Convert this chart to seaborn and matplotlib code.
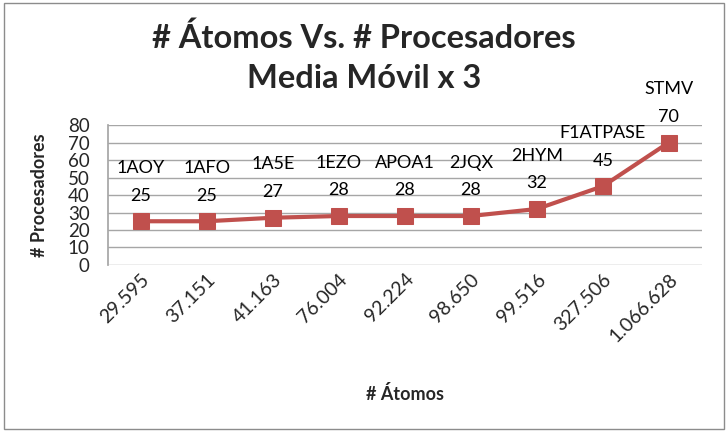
import numpy as np
import pandas as pd
import matplotlib
matplotlib.use('Agg')
import matplotlib.pyplot as plt
import matplotlib.transforms as mtransforms
import seaborn as sns
from matplotlib.patches import Rectangle

# data
atomos = ['29.595', '37.151', '41.163', '76.004', '92.224', '98.650',
          '99.516', '327.506', '1.066.628']
nombres = ['1AOY', '1AFO', '1A5E', '1EZO', 'APOA1', '2JQX', '2HYM',
           'F1ATPASE', 'STMV']
procesadores = [25, 25, 27, 28, 28, 28, 32, 45, 70]

sns.set_theme(style='white')
plt.rcParams['font.family'] = ['Lato', 'DejaVu Sans']

df = pd.DataFrame({'atomos': atomos, 'proc': procesadores, 'nombre': nombres})
df['pos'] = np.arange(len(df))

fig = plt.figure(figsize=(7.28, 4.32), dpi=100)
ax = fig.add_axes([0.148, 0.3866, 0.816, 0.324])

color = '#C0504D'
sns.lineplot(data=df, x='pos', y='proc', ax=ax, color=color, linewidth=3,
             marker='s', markersize=12, markeredgecolor=color, zorder=3)

for _, r in df.iterrows():
    ax.annotate(str(r['proc']), (r['pos'], r['proc']), xytext=(0, 18.5),
                textcoords='offset points', ha='center', va='center',
                fontsize=13, color='black')
    ax.annotate(r['nombre'], (r['pos'], r['proc']), xytext=(0, 38.5),
                textcoords='offset points', ha='center', va='center',
                fontsize=13, color='black')

ax.set_xlim(-0.5, len(df) - 0.5)
ax.set_ylim(0, 80)
ax.set_yticks(range(0, 81, 10))
ax.set_xticks(df['pos'])
ax.set_xticklabels(atomos, rotation=45, ha='right', rotation_mode='anchor',
                   fontsize=14)
shift = mtransforms.ScaledTranslation(-12 / 100, -18 / 100, fig.dpi_scale_trans)
for lbl in ax.get_xticklabels():
    lbl.set_transform(lbl.get_transform() + shift)
ax.tick_params(axis='y', labelsize=13.5, pad=13, length=0)
ax.tick_params(axis='x', pad=4, length=0)
ax.yaxis.grid(True, color='#a6a6a6', linewidth=1)
for s in ['top', 'right', 'bottom']:
    ax.spines[s].set_visible(False)
ax.spines['left'].set_color('#a6a6a6')
ax.set_xlabel('# Átomos', fontsize=13, fontweight='bold')
ax.set_ylabel('# Procesadores', fontsize=13, fontweight='bold')
ax.xaxis.set_label_coords(0.5, -0.86)
ax.yaxis.set_label_coords(-0.1, 0.5)

fig.text(0.5, 0.866, '# Átomos Vs. # Procesadores\nMedia Móvil x 3',
         ha='center', va='center', fontsize=23.5, fontweight='bold',
         linespacing=1.45)

fig.patches.append(Rectangle((0.005, 0.008), 0.99, 0.984, transform=fig.transFigure,
                             fill=False, edgecolor='#8c8c8c', linewidth=1))

fig.savefig('out.png', dpi=100)
